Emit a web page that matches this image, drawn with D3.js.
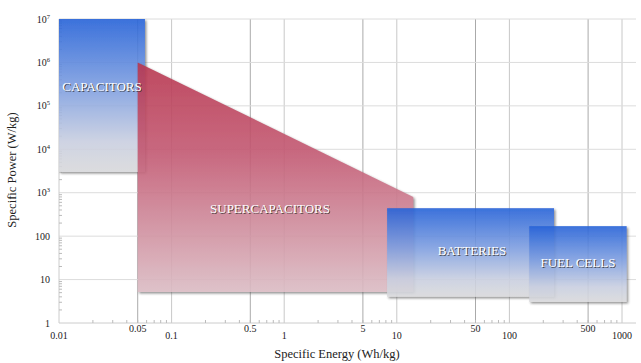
<!DOCTYPE html>
<html>
<head>
<meta charset="utf-8">
<script src="https://cdn.jsdelivr.net/npm/d3@7"></script>
<style>
body{margin:0;background:#fff;}
svg text{font-family:"Liberation Serif","Times New Roman","DejaVu Serif",serif;}
</style>
</head>
<body>
<svg id="chart" width="641" height="363" font-family="Liberation Serif, serif"></svg>
<script>
// ragone plot data (Wh/kg, W/kg)
let names = ["CAPACITORS","SUPERCAPACITORS","BATTERIES","FUEL CELLS"];
let energyMin = [0.01, 0.05, 8.2, 150];
let energyMax = [0.058, 14, 249, 1100];
let powerMin = [3000, 5.2, 4, 3.05];
let powerMax = [1e7, 1e6, 440, 170];
// supercapacitor right edge top value
let superTopRight = 800;
let xTicksLow = [0.01,0.1,1,10,100,1000];
let xTicksHigh = [0.05,0.5,5,50,500];
let yTicks = [1,10,100,1e3,1e4,1e5,1e6,1e7];

const svg = d3.select('svg');
const x = d3.scaleLog().domain([0.01,1000]).range([59,622]);
const y = d3.scaleLog().domain([1,1e7]).range([323,19]);
const right = 636;

const defs = svg.append("defs");
function grad(id, stops){
    let g = defs.append("linearGradient").attr("id",id)
        .attr("x1",0).attr("y1",0).attr("x2",0).attr("y2",1);
    stops.forEach(s=>g.append("stop").attr("offset",s[0]).attr("stop-color",s[1]));
}
grad("blueG",[[0,"#2763d8"],[0.45,"#7f9fe0"],[0.8,"#c9cfe0"],[1,"#d9d9db"]]);
grad("redG",[[0,"#b8364f"],[0.4,"#c35a73"],[1,"#dbbcc4"]]);
let f = defs.append("filter").attr("id","shadow").attr("x","-10%").attr("y","-10%").attr("width","130%").attr("height","130%");
f.append("feDropShadow").attr("dx",1.5).attr("dy",1.5).attr("stdDeviation",1.2).attr("flood-color","#555").attr("flood-opacity",0.7);

// grid
const grid = svg.append("g");
[...xTicksLow.slice(1), ...xTicksHigh].forEach(v=>{
    grid.append("line").attr("x1",x(v)).attr("x2",x(v)).attr("y1",y(1e7)).attr("y2",y(1))
        .attr("stroke", xTicksHigh.includes(v) ? "#aaa" : "#c8c8c8").attr("stroke-width",1);
});
yTicks.slice(1).forEach(v=>{
    grid.append("line").attr("x1",x(0.01)).attr("x2",right).attr("y1",y(v)).attr("y2",y(v))
        .attr("stroke","#dcdcdc").attr("stroke-width",1);
});
// axis lines
grid.append("line").attr("x1",x(0.01)).attr("x2",right).attr("y1",y(1)).attr("y2",y(1)).attr("stroke","#ccc");
grid.append("line").attr("x1",x(0.01)).attr("x2",x(0.01)).attr("y1",y(1e7)).attr("y2",y(1)).attr("stroke","#ccc");
// minor ticks
for(let d=0.01; d<1000; d*=10){
    for(let m=2;m<10;m++){
        let v=d*m;
        grid.append("line").attr("x1",x(v)).attr("x2",x(v)).attr("y1",y(1)).attr("y2",y(1)-3).attr("stroke","#bbb");
    }
}
for(let d=1; d<1e7; d*=10){
    for(let m=2;m<10;m++){
        let v=d*m;
        grid.append("line").attr("x1",x(0.01)).attr("x2",x(0.01)+3).attr("y1",y(v)).attr("y2",y(v)).attr("stroke","#bbb");
    }
}

// regions
const shapes = svg.append("g");
function rect(i, fill){
    shapes.append("rect")
        .attr("x",x(energyMin[i])).attr("y",y(powerMax[i]))
        .attr("width",x(energyMax[i])-x(energyMin[i]))
        .attr("height",y(powerMin[i])-y(powerMax[i]))
        .attr("fill",fill).attr("opacity",0.9).attr("filter","url(#shadow)");
}
rect(0,"url(#blueG)");
let pts = [[energyMin[1],powerMax[1]],[energyMax[1],superTopRight],[energyMax[1],powerMin[1]],[energyMin[1],powerMin[1]]];
shapes.append("path")
    .attr("d", d3.line().x(d=>x(d[0])).y(d=>y(d[1]))(pts)+"Z")
    .attr("fill","url(#redG)").attr("opacity",0.9).attr("filter","url(#shadow)");
rect(2,"url(#blueG)");
rect(3,"url(#blueG)");

// region labels
let labelPos = [[0.0241,2.2e5],[0.748,340],[46.5,37],[406,19.5]];
names.forEach((n,i)=>{
    let px=x(labelPos[i][0]), py=y(labelPos[i][1]);
    svg.append("text").attr("x",px+1).attr("y",py+1.3).attr("text-anchor","middle")
        .attr("font-size",13).attr("fill","#333").attr("opacity",0.8).text(n);
    svg.append("text").attr("x",px).attr("y",py).attr("text-anchor","middle")
        .attr("font-size",13).attr("fill","#fff").text(n);
});

// y tick labels
const yl = svg.append("g").attr("font-size",10).attr("fill","#222");
yTicks.forEach(v=>{
    let t = yl.append("text").attr("x",50).attr("y",y(v)+3.5).attr("text-anchor","end");
    if(v<1000) t.text(v);
    else {
        t.text("10");
        t.append("tspan").attr("dy",-4).attr("font-size",6.5).text(Math.round(Math.log10(v)));
    }
});
// x tick labels
const xl = svg.append("g").attr("font-size",10).attr("fill","#222").attr("text-anchor","middle");
xTicksLow.forEach(v=>xl.append("text").attr("x",x(v)).attr("y",339).text(v));
xTicksHigh.forEach(v=>xl.append("text").attr("x",x(v)).attr("y",332).text(v));

// titles
svg.append("text").attr("x",337).attr("y",358).attr("text-anchor","middle")
    .attr("font-size",12.5).attr("fill","#222").text("Specific Energy (Wh/kg)");
svg.append("text").attr("transform","translate(16,170) rotate(-90)").attr("text-anchor","middle")
    .attr("font-size",12.5).attr("fill","#222").text("Specific Power (W/kg)");
</script>
</body>
</html>
